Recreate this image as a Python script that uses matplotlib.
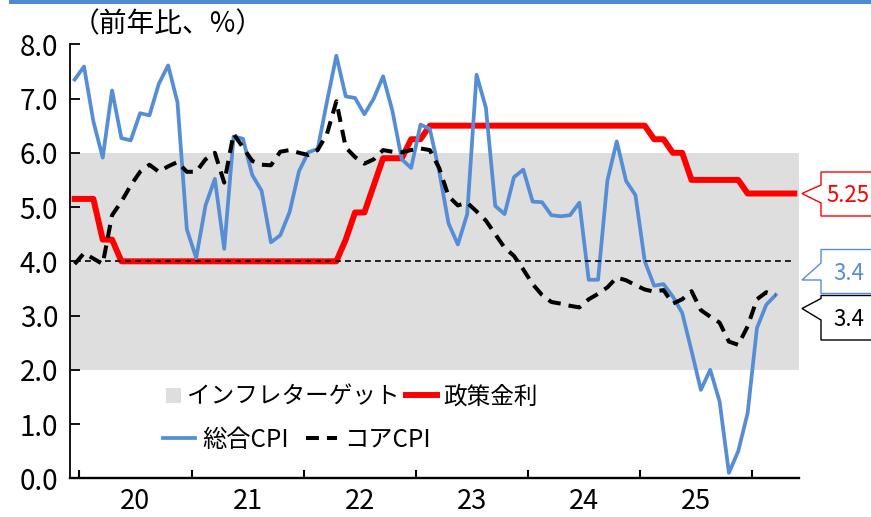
import numpy as np
import pandas as pd
import matplotlib
matplotlib.use('Agg')
import matplotlib.pyplot as plt
from matplotlib.patches import Polygon, Rectangle, Patch
from matplotlib.legend_handler import HandlerPatch

plt.rcParams['font.family'] = ['Noto Sans CJK JP', 'DejaVu Sans']

# monthly categories, Dec 2019 .. May 2026
months = pd.period_range('2019-12', '2026-05', freq='M')

policy_rate = [5.15,
               5.15, 5.15, 4.40, 4.40, 4.00, 4.00, 4.00, 4.00, 4.00, 4.00, 4.00, 4.00,
               4.00, 4.00, 4.00, 4.00, 4.00, 4.00, 4.00, 4.00, 4.00, 4.00, 4.00, 4.00,
               4.00, 4.00, 4.00, 4.00, 4.40, 4.90, 4.90, 5.40, 5.90, 5.90, 5.90, 6.25,
               6.25, 6.50, 6.50, 6.50, 6.50, 6.50, 6.50, 6.50, 6.50, 6.50, 6.50, 6.50,
               6.50, 6.50, 6.50, 6.50, 6.50, 6.50, 6.50, 6.50, 6.50, 6.50, 6.50, 6.50,
               6.50, 6.25, 6.25, 6.00, 6.00, 5.50, 5.50, 5.50, 5.50, 5.50, 5.50, 5.25,
               5.25, 5.25, 5.25, 5.25, 5.25]

cpi = [7.35,
       7.59, 6.58, 5.91, 7.15, 6.27, 6.23, 6.73, 6.69, 7.27, 7.61, 6.93, 4.59,
       4.06, 5.03, 5.52, 4.23, 6.30, 6.26, 5.59, 5.30, 4.35, 4.48, 4.91, 5.66,
       6.01, 6.07, 6.95, 7.79, 7.04, 7.01, 6.71, 7.00, 7.41, 6.77, 5.88, 5.72,
       6.52, 6.44, 5.66, 4.70, 4.31, 4.87, 7.44, 6.83, 5.02, 4.87, 5.55, 5.69,
       5.10, 5.09, 4.85, 4.83, 4.85, 5.08, 3.66, 3.66, 5.49, 6.21, 5.48, 5.22,
       4.00, 3.55, 3.58, 3.35, 3.05, 2.35, 1.63, 2.00, 1.42, 0.10, 0.50, 1.20,
       2.77, 3.20, 3.38]

core_cpi = [3.95,
            4.15, 4.05, 3.95, 4.85, 5.10, 5.40, 5.65, 5.78, 5.65, 5.75, 5.83, 5.65,
            5.65, 5.88, 6.00, 5.45, 6.35, 6.10, 5.85, 5.78, 5.77, 6.02, 6.05, 6.00,
            5.96, 6.05, 6.35, 6.95, 6.10, 5.92, 5.80, 5.88, 6.05, 6.02, 6.01, 6.05,
            6.08, 6.05, 5.72, 5.20, 5.03, 5.08, 4.92, 4.75, 4.50, 4.25, 4.10, 3.85,
            3.58, 3.38, 3.25, 3.22, 3.18, 3.15, 3.30, 3.40, 3.52, 3.70, 3.65, 3.56,
            3.48, 3.44, 3.47, 3.22, 3.30, 3.45, 3.10, 2.98, 2.87, 2.52, 2.46, 2.80,
            3.30, 3.43, 3.38]

target = 4.0
band_lo, band_hi = 2.0, 6.0
year_labels = ['20', '21', '22', '23', '24', '25']
yticks = np.arange(0, 8.1, 1.0)

W, H = 871, 517
fig = plt.figure(figsize=(W / 100, H / 100), dpi=100)


def fp(xp, yp):
    # pixel (from top-left) -> figure fraction
    return (xp / W, 1 - yp / H)


ax = fig.add_axes([70 / W, (H - 478.3) / H, 729 / W, 434 / H])
x = np.arange(len(months))

ax.axhspan(band_lo, band_hi, color='#dedede', lw=0, zorder=0)
l_red, = ax.plot(x, policy_rate, color='#ff0000', lw=4.3, zorder=2)
l_cpi, = ax.plot(x[:len(cpi)], cpi, color='#558ed5', lw=2.7, zorder=3)
l_core, = ax.plot(x[:len(core_cpi)], core_cpi, color='black', lw=2.9,
                  ls=(0, (3.2, 2)), zorder=4)
ax.hlines(target, x[0], x[-1], colors='black', lw=1.2,
          linestyles=(0, (3.5, 2.5)), zorder=5)

ax.set_xlim(-0.5, len(months) - 0.5)
ax.set_ylim(0, 8)

jan = [i for i, m in enumerate(months) if m.month == 1]
bounds = [i - 0.5 for i in jan]
centers = [(bounds[k] + bounds[k + 1]) / 2 for k in range(len(year_labels))]
ax.set_xticks(bounds)
ax.set_xticklabels([])
ax.set_xticks(centers, minor=True)
ax.set_xticklabels(year_labels, minor=True)
ax.tick_params(axis='x', which='major', direction='in', length=6, width=1.5)
ax.tick_params(axis='x', which='minor', length=0, pad=7, labelsize=19.5)

ax.set_yticks(yticks)
ax.set_yticklabels([f'{v:.1f}' for v in yticks])
ax.tick_params(axis='y', direction='in', length=7, width=1.3, pad=8.5, labelsize=20)

for s in ['top', 'right']:
    ax.spines[s].set_visible(False)
ax.spines['left'].set_linewidth(1.3)
ax.spines['bottom'].set_linewidth(1.7)

# top blue rule
fig.add_artist(Rectangle(fp(9, 4), 1, 4 / H, transform=fig.transFigure,
                         color='#4f89d1', lw=0))

fig.text(*fp(72, 24), '（前年比、%）', fontsize=20, ha='left', va='center')

# legend, two rows
h_band = Patch(facecolor='#dedede', edgecolor='none')


def square_patch(legend, orig_handle, xdescent, ydescent, width, height, fontsize):
    s = 0.62 * fontsize
    return Rectangle((-xdescent + width - s, -ydescent + (height - s) / 2), s, s)


fig.legend([h_band, l_red], ['インフレターゲット', '政策金利'], loc='center left',
           bbox_to_anchor=fp(150, 397), ncol=2, frameon=False, fontsize=17,
           handlelength=1.3, handletextpad=0.25, columnspacing=0.3,
           borderpad=0, borderaxespad=0,
           handler_map={h_band: HandlerPatch(patch_func=square_patch)})
fig.legend([l_cpi, l_core], ['総合CPI', 'コアCPI'], loc='center left',
           bbox_to_anchor=fp(163, 440), ncol=2, frameon=False, fontsize=17.5,
           handlelength=1.3, handletextpad=0.3, columnspacing=0.7,
           borderpad=0, borderaxespad=0)

# callouts with latest values
callouts = [
    ([(821, 172), (880, 172), (880, 216), (821, 216), (821, 203), (802, 193.5), (821, 185)],
     '#ff0000', f'{policy_rate[-1]:.2f}', (826, 195), 'left'),
    ([(821, 249.5), (880, 249.5), (880, 293.5), (821, 293.5), (821, 280), (802, 280), (821, 263)],
     '#558ed5', f'{cpi[-1]:.1f}', (849, 274), 'center'),
    ([(821, 295.5), (880, 295.5), (880, 340), (821, 340), (821, 320), (802, 308.5), (821, 298.5)],
     'black', f'{core_cpi[-1]:.1f}', (849, 320), 'center'),
]
for pts, col, txt, tpos, ha in callouts:
    poly = Polygon([fp(*p) for p in pts], closed=True, transform=fig.transFigure,
                   facecolor='white', edgecolor=col, lw=1.0, clip_on=False)
    fig.add_artist(poly)
    fig.text(*fp(*tpos), txt, color=col, fontsize=16, ha=ha, va='center')

fig.savefig('out.png', dpi=100)
